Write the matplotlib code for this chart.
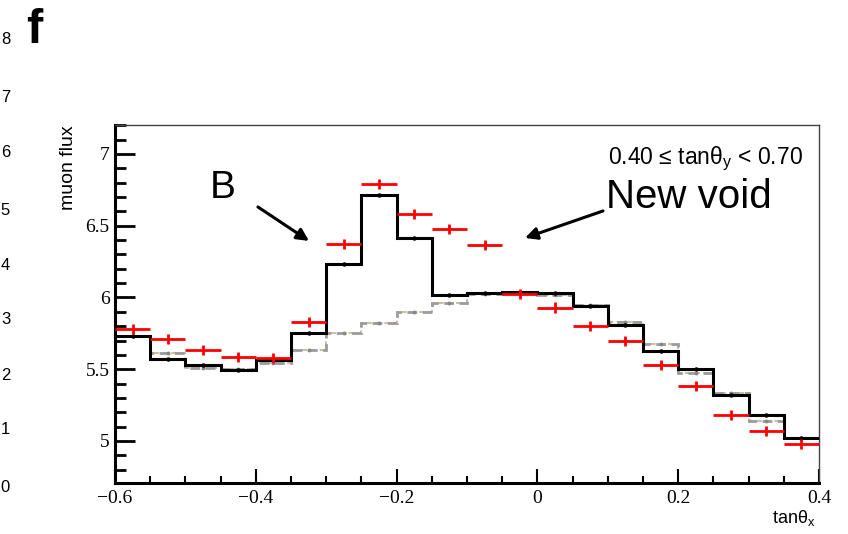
import numpy as np
import matplotlib
matplotlib.use("Agg")
import matplotlib.pyplot as plt
from matplotlib.ticker import MultipleLocator

plt.rcParams['mathtext.fontset'] = 'custom'
plt.rcParams['mathtext.rm'] = 'Liberation Sans'
plt.rcParams['mathtext.it'] = 'Liberation Sans:italic'

# ---- data ----
bin_edges = np.round(np.arange(-0.6, 0.4001, 0.05), 3)
sim_void = [5.73, 5.57, 5.53, 5.495, 5.565, 5.755, 6.235, 6.715, 6.415, 6.02,
            6.03, 6.04, 6.03, 5.94, 5.81, 5.63, 5.50, 5.32, 5.18, 5.02]
sim_novoid = [5.73, 5.61, 5.51, 5.50, 5.545, 5.635, 5.755, 5.82, 5.90, 5.96,
              6.025, 6.035, 6.02, 5.95, 5.83, 5.675, 5.475, 5.335, 5.14, 5.02]
observed = [5.78, 5.71, 5.635, 5.585, 5.58, 5.83, 6.375, 6.79, 6.58, 6.475,
            6.365, 6.025, 5.93, 5.80, 5.695, 5.53, 5.385, 5.18, 5.07, 4.98]
obs_err = [0.035] * 20
x_tick_labels = ['\u22120.6', '\u22120.4', '\u22120.2', '0', '0.2', '0.4']
y_tick_labels = ['5', '5.5', '6', '6.5', '7']
side_labels = ['8', '7', '6', '5', '4', '3', '2', '1', '0']

centers = 0.5 * (bin_edges[:-1] + bin_edges[1:])
half_w = 0.5 * (bin_edges[1] - bin_edges[0])

fig = plt.figure(figsize=(8.48, 5.34), dpi=100)
ax = fig.add_axes([0.1356, 0.0955, 0.8302, 0.6704])

# simulated without void (dashed)
ax.stairs(sim_novoid, bin_edges, color='#c8b090', lw=1.2, ls=(0, (3.5, 2)), zorder=2,
          baseline=None)
ax.stairs(sim_novoid, bin_edges, color='#9c9c9c', lw=2.0, ls=(0, (3.5, 2)), zorder=2,
          baseline=None)
ax.plot(centers, sim_novoid, 'o', color='#888888', ms=1.8, zorder=2)
# simulated with void
ax.stairs(sim_void, bin_edges, color='#4a90c0', lw=1.0, zorder=3, baseline=None)
ax.stairs(sim_void, bin_edges, color='black', lw=2.2, zorder=4, baseline=None)
ax.plot(centers, sim_void, 'o', color='black', ms=2.2, zorder=5)
# observed
ax.errorbar(centers, observed, xerr=half_w, yerr=obs_err, fmt='none',
            ecolor='red', elinewidth=2.0, capsize=0, zorder=6)

ax.set_xlim(-0.6, 0.4)
ax.set_ylim(4.707, 7.202)

ax.set_xticks([-0.6, -0.4, -0.2, 0.0, 0.2, 0.4])
ax.set_xticklabels(x_tick_labels)
ax.set_yticks([5, 5.5, 6, 6.5, 7])
ax.set_yticklabels(y_tick_labels)
ax.xaxis.set_minor_locator(MultipleLocator(0.05))
ax.yaxis.set_minor_locator(MultipleLocator(0.1))

for lab in ax.get_xticklabels() + ax.get_yticklabels():
    lab.set_fontfamily('Liberation Serif')
    lab.set_fontsize(14)

ax.tick_params(axis='x', which='major', direction='in', length=10, width=1.5, pad=5)
ax.tick_params(axis='x', which='minor', direction='in', length=5, width=1.5)
ax.tick_params(axis='y', which='major', direction='in', length=14.5, width=2, pad=4)
ax.tick_params(axis='y', which='minor', direction='in', length=8, width=2)
ax.tick_params(top=False, right=False, which='both')

for s in ['left', 'bottom']:
    ax.spines[s].set_linewidth(2.2)
for s in ['top', 'right']:
    ax.spines[s].set_linewidth(1.0)
    ax.spines[s].set_color('#444444')

sans = 'Liberation Sans'
ax.text(0.977, 0.905, '0.40 \u2264 tan\u03b8$_\\mathrm{y}$ < 0.70', transform=ax.transAxes,
        ha='right', va='center', fontsize=16.5, family=sans)
ax.text(0.153, 0.825, 'B', transform=ax.transAxes, ha='center', va='center',
        fontsize=28, family=sans)
ax.text(0.698, 0.800, 'New void', transform=ax.transAxes, ha='left', va='center',
        fontsize=29, family=sans)

ax.annotate('', xy=(-0.3244, 6.394), xytext=(-0.397, 6.631),
            arrowprops=dict(arrowstyle='-|>', color='black', lw=2.2,
                            mutation_scale=18, shrinkA=0, shrinkB=0))
ax.annotate('', xy=(-0.0176, 6.415), xytext=(0.0932, 6.603),
            arrowprops=dict(arrowstyle='-|>', color='black', lw=2.2,
                            mutation_scale=18, shrinkA=0, shrinkB=0))

fig.text(0.0805, 0.766, 'muon flux', rotation=90, ha='center', va='top',
         fontsize=14, family=sans)
fig.text(0.962, 0.021, 'tan\u03b8$_\\mathrm{x}$', ha='right', va='baseline',
         fontsize=13, family=sans)
fig.text(0.031, 0.943, 'f', ha='left', va='center', fontsize=35,
         fontweight='bold', family=sans)

side_y = [40, 97, 153, 210, 265, 320, 375, 430, 487]
for lab, py in zip(side_labels, side_y):
    fig.text(0.001, 1 - py / 534, lab, ha='left', va='center', fontsize=12,
             family=sans)

fig.savefig('out.png', dpi=100)
